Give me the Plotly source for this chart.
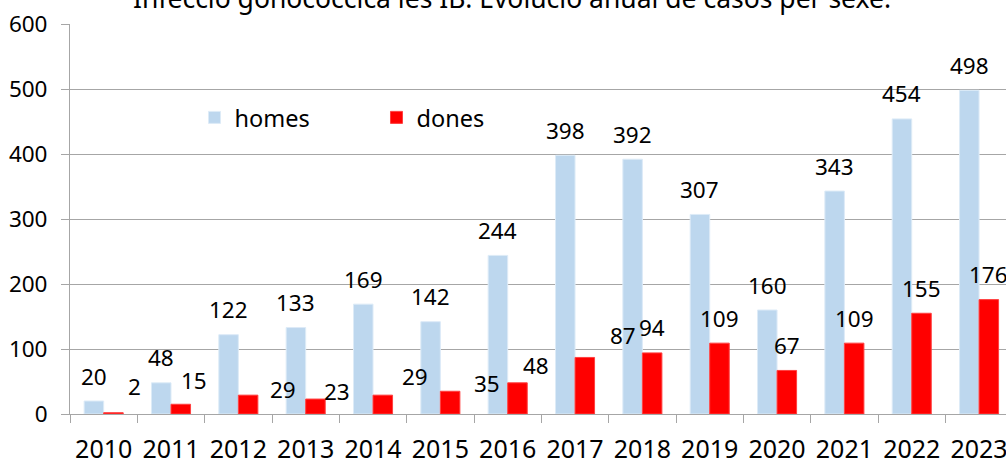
import plotly.graph_objects as go

years = ["2010", "2011", "2012", "2013", "2014", "2015", "2016",
         "2017", "2018", "2019", "2020", "2021", "2022", "2023"]
homes = [20, 48, 122, 133, 169, 142, 244, 398, 392, 307, 160, 343, 454, 498]
dones = [2, 15, 29, 23, 29, 35, 48, 87, 94, 109, 67, 109, 155, 176]
title_text = "Infecció gonocòccica les IB. Evolució anual de casos per sexe."

# label placement tweaks (pixels) for the "dones" data labels, as in the original
dones_dx = [21, 13, 35, 22, 32, 37, 19, 38, 0, 0, 0, 0, 0, 0]
dones_dy = [26, 24, 6, 8, 19, 8, 17, 22, 25, 25, 25, 25, 25, 25]

FONT = "Noto Sans"
BARGAP = 0.42
half = (1 - BARGAP) / 4.0
LBL = 22.5

fig = go.Figure()
fig.add_trace(go.Bar(name="homes", x=years, y=homes,
                     marker=dict(color="#BDD7EE", line=dict(color="#DDEBF7", width=1))))
fig.add_trace(go.Bar(name="dones", x=years, y=dones,
                     marker=dict(color="#FF0000", line=dict(color="#FF4040", width=1))))

annotations = []
for i, v in enumerate(homes):
    annotations.append(dict(x=i - half, y=v, xref="x", yref="y", text=str(v),
                            showarrow=False, yanchor="middle", xanchor="center",
                            yshift=25, font=dict(family=FONT, size=LBL, color="#000")))
for i, v in enumerate(dones):
    annotations.append(dict(x=i + half, y=v, xref="x", yref="y", text=str(v),
                            showarrow=False, yanchor="middle", xanchor="center",
                            xshift=dones_dx[i], yshift=dones_dy[i],
                            font=dict(family=FONT, size=LBL, color="#000")))
annotations.append(dict(x=0.5, y=1, xref="paper", yref="paper", text=title_text,
                        showarrow=False, yanchor="middle", xanchor="center",
                        xshift=-26, yshift=26,
                        font=dict(family=FONT, size=26.5, color="#000")))

fig.update_layout(
    width=1006, height=461,
    margin=dict(l=70, r=0, t=24, b=47, pad=0, autoexpand=False),
    paper_bgcolor="white", plot_bgcolor="white",
    barmode="group", bargap=BARGAP, bargroupgap=0,
    font=dict(family=FONT, size=LBL, color="#000"),
    showlegend=True,
    legend=dict(orientation="h", x=0.133, y=0.76, xanchor="left", yanchor="middle",
                font=dict(family=FONT, size=23.5, color="#000"),
                entrywidth=137, bgcolor="rgba(0,0,0,0)"),
    annotations=annotations,
    xaxis=dict(type="category", range=[-0.5, 13.4], showline=True, linecolor="#A6A6A6",
               linewidth=1, ticks="outside", tickson="boundaries", ticklen=8,
               tickcolor="#A6A6A6", showgrid=False, automargin=False,
               tickfont=dict(family=FONT, size=25, color="#000"),
               ticklabelstandoff=13, ticklabeloverflow="allow"),
    yaxis=dict(range=[0, 600], dtick=100, showline=True, linecolor="#A6A6A6",
               linewidth=1, ticks="outside", ticklen=8, tickcolor="#A6A6A6",
               showgrid=True, gridcolor="#A6A6A6", gridwidth=1, zeroline=False,
               automargin=False, ticklabeloverflow="allow",
               tickfont=dict(family=FONT, size=22.5, color="#000"),
               ticklabelstandoff=9),
)

# remove the browser's default 8px page margin so the 1006x461 figure fills the window
fig.write_html("out.html", config={"displayModeBar": False},
               post_script="document.body.style.margin='0';")
